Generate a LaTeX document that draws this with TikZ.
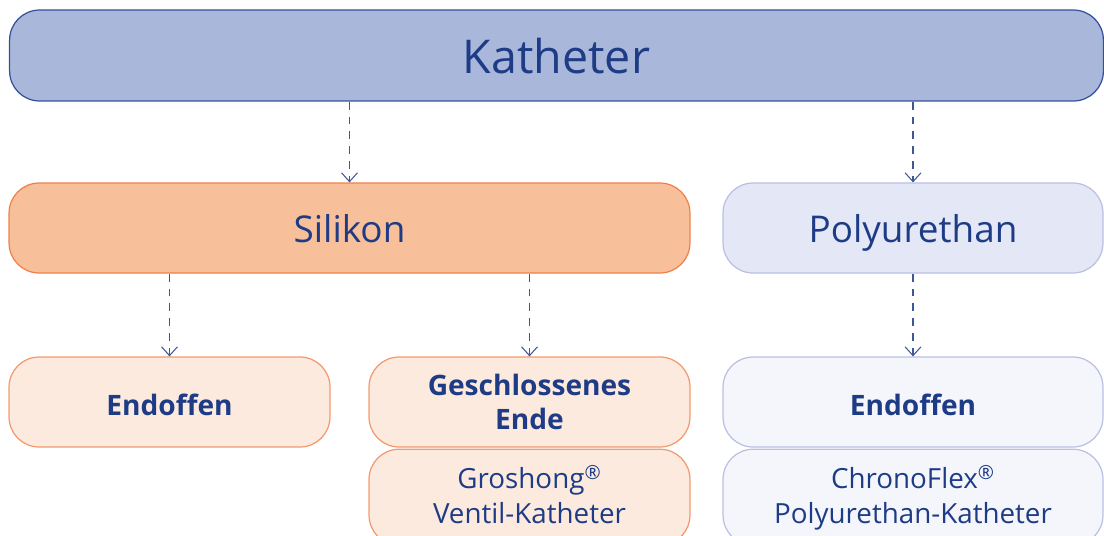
\documentclass[tikz,border=0pt]{standalone}
\usepackage{fontspec}
\setmainfont{Open Sans}
\usetikzlibrary{arrows.meta, positioning, calc}
\definecolor{kath_blue}{HTML}{A9B7DA}
\definecolor{kath_navy}{HTML}{1E3C86}
\definecolor{kath_edge}{HTML}{34509A}
\definecolor{sil_orange}{HTML}{F8C09A}
\definecolor{sil_edge}{HTML}{F08048}
\definecolor{sil_light}{HTML}{FCEADF}
\definecolor{pu_lilac}{HTML}{E4E7F5}
\definecolor{pu_edge}{HTML}{B9C0E3}
\definecolor{pu_light}{HTML}{F5F6FC}
\colorlet{arrowblue}{kath_edge!85!gray}
\tikzset{
  basebox/.style={rectangle,rounded corners=0.6cm,text=kath_navy,align=center,inner sep=0pt,line width=0.7pt},
  topclass/.style={basebox,draw=kath_edge,fill=kath_blue,minimum width=21.88cm,minimum height=1.82cm,font=\fontsize{26.5}{30}\selectfont,text depth=-2.4pt},
  matclass/.style={basebox,minimum height=1.8cm,font=\fontsize{21}{24}\selectfont,text depth=-2.4pt},
  silclass/.style={matclass,draw=sil_edge,fill=sil_orange,minimum width=13.62cm},
  puclass/.style={matclass,draw=pu_edge,fill=pu_lilac,minimum width=7.6cm},
  typeclass/.style={basebox,minimum height=1.8cm,font=\fontsize{16}{19.5}\selectfont\bfseries},
  typeclass_s/.style={typeclass,draw=sil_edge!80,fill=sil_light,minimum width=6.42cm},
  typeclass_p/.style={typeclass,draw=pu_edge,fill=pu_light,minimum width=7.6cm},
  oneline/.style={text height=15pt,text depth=0pt},
  prodclass/.style={basebox,minimum height=1.92cm,font=\fontsize{15.8}{19.8}\selectfont,text depth=3.4pt},
  relation/.style={draw=arrowblue,line width=0.6pt,dash pattern=on 4.5pt off 4pt,-{Straight Barb[length=5pt,width=9pt]}},
}

\begin{document}
\begin{tikzpicture}[x=0.02cm,y=-0.02cm]
	    \clip (0,0) rectangle (1104,535);
	    \node[topclass] (kath) at (556.5,55.5) {Katheter};
	    \node[silclass] (sil) at (349.5,228) {Silikon};
	    \node[puclass] (pu) at (913,228) {Polyurethan};
	    \node[typeclass_s,oneline] (silopen) at (169.5,402) {Endoffen};
	    \node[typeclass_s,text depth=0pt] (silclosed) at (529.5,402) {Geschlossenes\\Ende};
	    \node[prodclass,draw=sil_edge!80,fill=sil_light,minimum width=6.42cm,below=0.02cm of silclosed] (groshong) {Groshong\textsuperscript{®}\\Ventil-Katheter};
	    \node[typeclass_p,oneline] (puopen) at (913,402) {Endoffen};
	    \node[prodclass,draw=pu_edge,fill=pu_light,minimum width=7.6cm,below=0.02cm of puopen] (chrono) {ChronoFlex\textsuperscript{®}\\Polyurethan-Katheter};
	    \draw[relation] (sil.north |- kath.south) -- (sil.north);
	    \draw[relation] (pu.north |- kath.south) -- (pu.north);
	    \draw[relation] (silopen.north |- sil.south) -- (silopen.north);
	    \draw[relation] (silclosed.north |- sil.south) -- (silclosed.north);
	    \draw[relation] (pu.south) -- (puopen.north);
	\end{tikzpicture}
\end{document}
